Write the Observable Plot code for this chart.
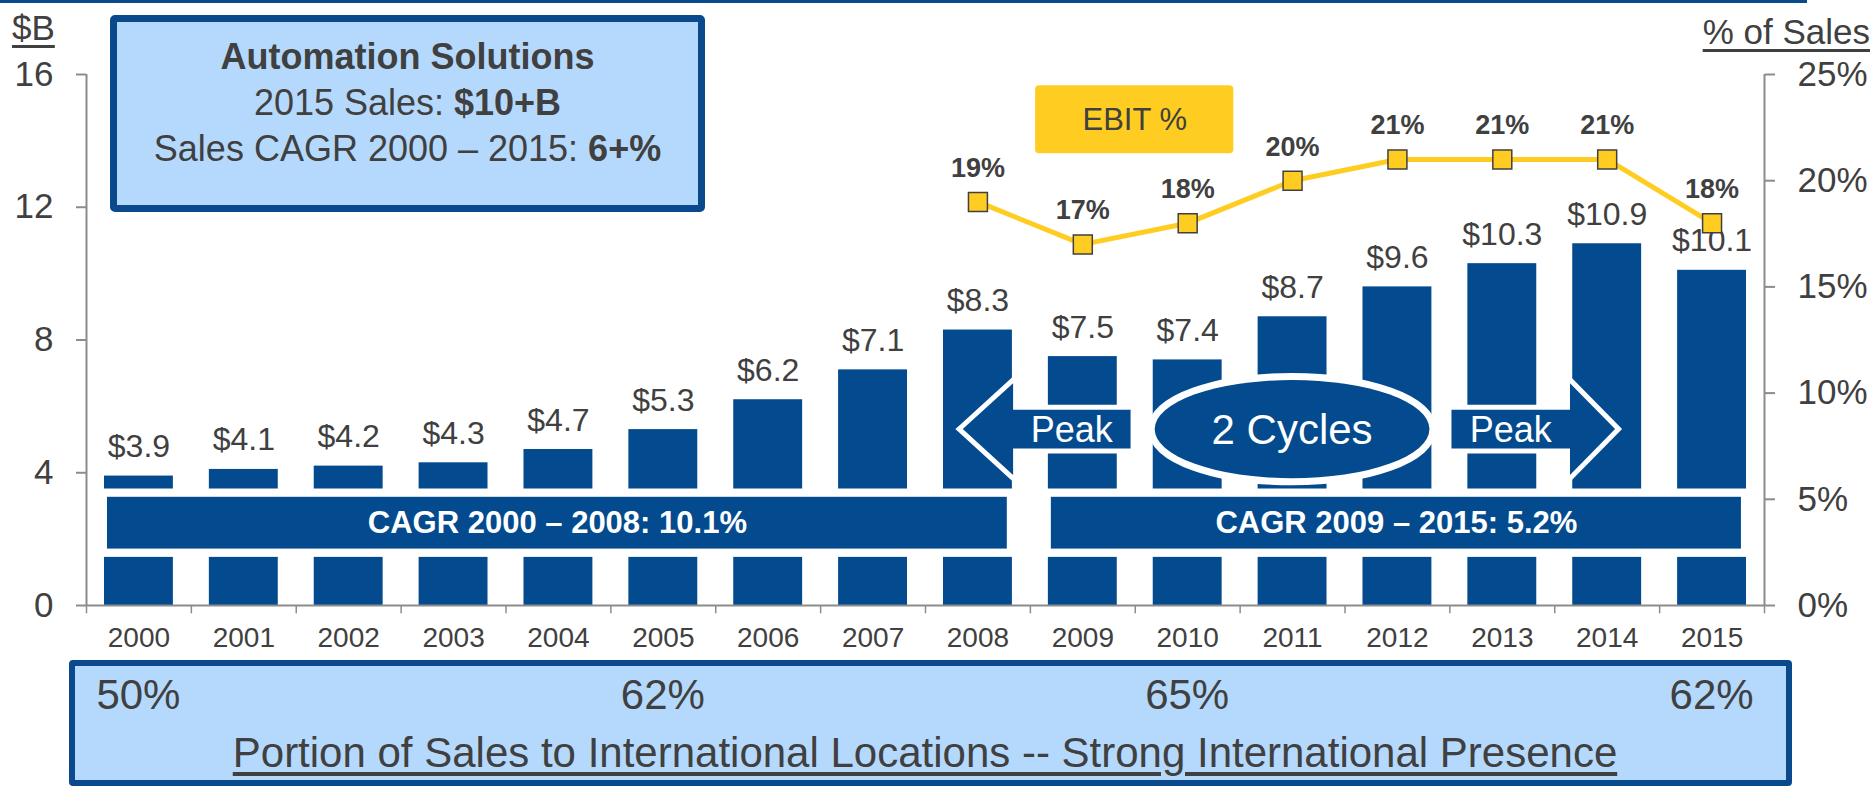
<!DOCTYPE html>
<html>
<head>
<meta charset="utf-8">
<script src="https://cdn.jsdelivr.net/npm/d3@7"></script>
<script src="https://cdn.jsdelivr.net/npm/@observablehq/plot@0.6"></script>
<style>
  html, body { margin: 0; padding: 0; background: #fff; }
  body { font-family: "Liberation Sans", Arial, sans-serif; color: #404040; }
  #wrap { position: relative; width: 1874px; height: 786px; overflow: hidden; }
  #wrap > svg { position: absolute; left: 0; top: 0; }
  .topline { position: absolute; left: 0; top: 0; width: 1807px; height: 3px; background: #0a4a8c; }
  .unit { position: absolute; font-size: 35px; line-height: 35px; white-space: nowrap;
          text-decoration: underline; text-decoration-thickness: 3px; text-underline-offset: 5px; }
  .titlebox { position: absolute; left: 110px; top: 15px; width: 595px; height: 197px; box-sizing: border-box;
              border: 7px solid #0a4a8c; border-radius: 5px; background: #b5d9fd; text-align: center;
              font-size: 36px; line-height: 46px; padding-top: 12px; }
  .bottombox { position: absolute; left: 69px; top: 660px; width: 1723px; height: 126px; box-sizing: border-box;
               border: 6px solid #0a4a8c; border-radius: 4px; background: #b5d9fd; }
  .intl { position: absolute; top: 674px; font-size: 42px; line-height: 42px; transform: translateX(-50%); white-space: nowrap; }
  .portion { position: absolute; top: 732px; font-size: 42px; line-height: 42px; transform: translateX(-50%); white-space: nowrap;
             text-decoration: underline; text-decoration-thickness: 4px; text-underline-offset: 5px; }
  g[aria-label="y-axis tick"] { stroke: #8c8c8c; }
</style>
</head>
<body>
<div id="wrap"></div>
<script>
// ---------- data ----------
const years = [2000, 2001, 2002, 2003, 2004, 2005, 2006, 2007, 2008, 2009, 2010, 2011, 2012, 2013, 2014, 2015];
const sales = [3.9, 4.1, 4.2, 4.3, 4.7, 5.3, 6.2, 7.1, 8.3, 7.5, 7.4, 8.7, 9.6, 10.3, 10.9, 10.1];
const ebitYears = [2008, 2009, 2010, 2011, 2012, 2013, 2014, 2015];
const ebitPct = [19, 17, 18, 20, 21, 21, 21, 18];
const leftTicks = [0, 4, 8, 12, 16];
const rightTicks = [0, 5, 10, 15, 20, 25];
const intlYears = [2000, 2005, 2010, 2015];
const intlShare = [50, 62, 65, 62];
const cagrFrom = [2000, 2009];
const cagrTo = [2008, 2015];
const cagrLabels = ["CAGR 2000 – 2008: 10.1%", "CAGR 2009 – 2015: 5.2%"];

// ---------- annotation geometry (data units) ----------
const BLUE = "#034b8e", YELLOW = "#ffcd21", TEXT = "#404040", GRAY = "#8c8c8c";
const barHalf = 0.3285;
const gapBand = {y1: 1.45, y2: 3.51};
const bannerBand = {y1: 1.70, y2: 3.26};
const ebitKey = {x1: 2008.55, x2: 2010.44, y1: 13.61, y2: 15.66, label: "EBIT %"};
const peakArrows = [
  {tip: 2007.86, neck: 2008.34, tail: 2009.46, label: "Peak"},
  {tip: 2014.08, neck: 2013.65, tail: 2012.52, label: "Peak"}
];
const arrowY = {center: 5.3, body: 0.585, head: 1.38};
const cycles = {x: 2011.0, rx: 1.31, y: 5.3, ry: 1.48, label: "2 Cycles"};
const pctToY = p => p * 16 / 25;

const barData = years.map((year, i) => ({year, sales: sales[i]}));
const ebitData = ebitYears.map((year, i) => ({year, pct: ebitPct[i]}));
const bands = cagrLabels.map((label, i) => ({from: cagrFrom[i], to: cagrTo[i], label}));
const boundaries = [...years.map(y => y - 0.5), years[years.length - 1] + 0.5];
const xMin = years[0] - 0.5, xMax = years[years.length - 1] + 0.5;

const plot = Plot.plot({
  width: 1874,
  height: 786,
  marginTop: 74,
  marginBottom: 181,
  marginLeft: 86,
  marginRight: 110,
  style: {fontFamily: '"Liberation Sans", Arial, sans-serif', color: TEXT, background: "transparent", overflow: "visible"},
  x: {domain: [xMin, xMax]},
  y: {domain: [0, 16]},
  marks: [
    Plot.rect(barData, {x1: d => d.year - barHalf, x2: d => d.year + barHalf, y1: d => 0, y2: "sales", fill: BLUE}),
    Plot.rect([gapBand], {x1: () => xMin, x2: () => xMax, y1: "y1", y2: "y2", fill: "white"}),
    Plot.rect(bands, {x1: d => d.from - 0.30, x2: d => d.to + 0.28, y1: () => bannerBand.y1, y2: () => bannerBand.y2, fill: BLUE}),
    Plot.text(bands, {x: d => (d.from - 0.30 + d.to + 0.28) / 2, y: () => (bannerBand.y1 + bannerBand.y2) / 2,
      text: "label", fill: "white", fontWeight: "bold", fontSize: 31}),
    Plot.text(barData, {x: "year", y: "sales", text: d => "$" + d.sales.toFixed(1), lineAnchor: "bottom", dy: -19,
      fontSize: 32, fill: TEXT}),
    // axes
    Plot.ruleX([xMin, xMax], {y1: 0, y2: 16, stroke: GRAY, strokeWidth: 2}),
    Plot.ruleY([0], {x1: xMin, x2: xMax, stroke: GRAY, strokeWidth: 2}),
    Plot.ruleX(boundaries, {y1: 0, y2: -0.25, stroke: GRAY, strokeWidth: 1.5}),
    Plot.axisX(years, {tickSize: 0, tickPadding: 22, fontSize: 28, tickFormat: d => String(d), color: TEXT}),
    Plot.axisY(leftTicks, {anchor: "left", tickSize: 10, tickPadding: 23, fontSize: 35, color: TEXT, strokeWidth: 2}),
    Plot.axisY(rightTicks.map(pctToY), {anchor: "right", tickSize: 10, tickPadding: 23, fontSize: 35, color: TEXT, strokeWidth: 2,
      tickFormat: v => Math.round(v * 25 / 16) + "%"}),
    // EBIT
    Plot.rect([ebitKey], {x1: "x1", x2: "x2", y1: "y1", y2: "y2", fill: YELLOW, rx: 4}),
    Plot.text([ebitKey], {x: d => (d.x1 + d.x2) / 2, y: d => (d.y1 + d.y2) / 2, text: "label", fontSize: 31, fill: TEXT}),
    Plot.line(ebitData, {x: "year", y: d => pctToY(d.pct), stroke: YELLOW, strokeWidth: 5}),
    Plot.dot(ebitData, {x: "year", y: d => pctToY(d.pct), symbol: "square", r: 10.7, fill: YELLOW, stroke: TEXT, strokeWidth: 1.5}),
    Plot.text(ebitData, {x: "year", y: d => pctToY(d.pct), text: d => d.pct + "%", lineAnchor: "bottom", dy: -25,
      fontWeight: "bold", fontSize: 27, fill: TEXT})
  ]
});

const wrap = document.getElementById("wrap");
wrap.appendChild(plot);

// shapes drawn with the plot's own scales
const xs = plot.scale("x"), ys = plot.scale("y");
const X = v => xs.apply(v), Y = v => ys.apply(v);
const svg = d3.select(plot);
const g = svg.append("g").attr("font-family", '"Liberation Sans", Arial, sans-serif');

peakArrows.forEach(a => {
  const pts = [
    [a.tip, arrowY.center],
    [a.neck, arrowY.center + arrowY.head],
    [a.neck, arrowY.center + arrowY.body],
    [a.tail, arrowY.center + arrowY.body],
    [a.tail, arrowY.center - arrowY.body],
    [a.neck, arrowY.center - arrowY.body],
    [a.neck, arrowY.center - arrowY.head]
  ].map(([x, y]) => [X(x), Y(y)]);
  g.append("path").attr("d", "M" + pts.join("L") + "Z")
    .attr("fill", BLUE).attr("stroke", "white").attr("stroke-width", 10)
    .attr("stroke-linejoin", "miter").attr("paint-order", "stroke");
  g.append("text").attr("x", X((a.neck + a.tail) / 2)).attr("y", Y(arrowY.center))
    .attr("text-anchor", "middle").attr("dy", "0.35em").attr("fill", "white").attr("font-size", 36).text(a.label);
});

g.append("ellipse")
  .attr("cx", X(cycles.x)).attr("cy", Y(cycles.y))
  .attr("rx", X(cycles.x + cycles.rx) - X(cycles.x)).attr("ry", Y(cycles.y - cycles.ry) - Y(cycles.y))
  .attr("fill", BLUE).attr("stroke", "white").attr("stroke-width", 14).attr("paint-order", "stroke");
g.append("text").attr("x", X(cycles.x)).attr("y", Y(cycles.y)).attr("dy", "0.35em")
  .attr("text-anchor", "middle").attr("fill", "white").attr("font-size", 42).text(cycles.label);

// HTML chrome
function add(html) { wrap.insertAdjacentHTML("beforeend", html); }
add('<div class="topline"></div>');
add('<div class="unit" style="left:12px;top:10px;">$B</div>');
add('<div class="unit" style="right:4px;top:14px;">% of Sales</div>');
add('<div class="titlebox"><b>Automation Solutions</b><br>2015 Sales: <b>$10+B</b><br>Sales CAGR 2000 – 2015: <b>6+%</b></div>');
add('<div class="bottombox"></div>');
intlYears.forEach((yr, i) => {
  add('<div class="intl" style="left:' + X(yr) + 'px;">' + intlShare[i] + '%</div>');
});
add('<div class="portion" style="left:' + X((xMin + xMax) / 2) + 'px;">Portion of Sales to International Locations -- Strong International Presence</div>');
</script>
</body>
</html>
